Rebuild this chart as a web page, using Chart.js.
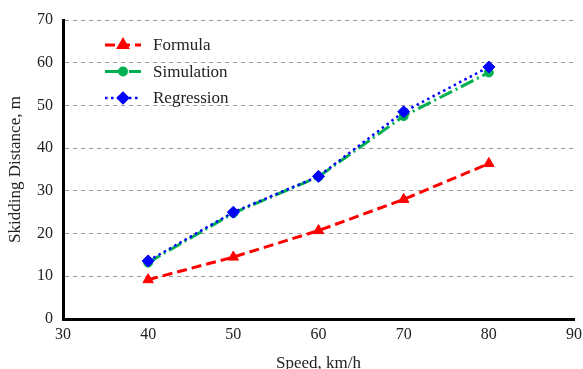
<!DOCTYPE html>
<html>
<head>
<meta charset="utf-8">
<script src="https://cdn.jsdelivr.net/npm/chart.js@4.4.1/dist/chart.umd.min.js"></script>
<style>
  html, body { margin:0; padding:0; background:#fff; overflow:hidden; }
  #wrap { position:relative; width:583px; height:378px; }
</style>
</head>
<body>
<div id="wrap"><canvas id="chart"></canvas></div>
<script>
// Datos
const speeds = [40, 50, 60, 70, 80];
const formula = [9.2, 14.5, 20.7, 28.0, 36.4];
const simulation = [13.2, 24.8, 33.3, 47.5, 57.7];
const regression = [13.6, 25.0, 33.4, 48.5, 59.0];
const seriesNames = ['Formula', 'Simulation', 'Regression'];

const FONT = "'Liberation Serif', 'DejaVu Serif', serif";
const pts = arr => speeds.map((x, i) => ({ x, y: arr[i] }));

// Leyenda dibujada dentro del área del gráfico
const insideLegend = {
  id: 'insideLegend',
  afterDraw(chart){
    const ctx = chart.ctx;
    const x0 = chart.chartArea.left + 42, y0 = 45, gap = 26.5;
    chart.data.datasets.forEach((ds, i) => {
      const y = y0 + i * gap;
      ctx.save();
      ctx.strokeStyle = ds.borderColor;
      ctx.lineWidth = ds.borderWidth;
      ctx.setLineDash(ds.borderDash || []);
      ctx.beginPath();
      ctx.moveTo(x0, y);
      ctx.lineTo(x0 + 36, y);
      ctx.stroke();
      ctx.setLineDash([]);
      Chart.helpers.drawPoint(ctx, {
        pointStyle: ds.pointStyle, radius: ds.pointRadius - 1, rotation: 0, borderWidth: 1
      }, x0 + 18, y);
      ctx.fillStyle = ds.pointBackgroundColor;
      ctx.strokeStyle = ds.pointBackgroundColor;
      ctx.fill();
      ctx.fillStyle = '#222';
      ctx.font = '17px ' + FONT;
      ctx.textBaseline = 'middle';
      ctx.fillText(seriesNames[i], x0 + 48, y + 1);
      ctx.restore();
    });
  }
};

new Chart(document.getElementById('chart'), {
  type: 'line',
  data: {
    datasets: [
      {
        label: seriesNames[0], data: pts(formula), order: 2,
        borderColor: '#ff0000', borderWidth: 3, borderDash: [10, 5],
        pointStyle: 'triangle', pointRadius: 6,
        pointBackgroundColor: '#ff0000', pointBorderColor: '#ff0000', pointBorderWidth: 1
      },
      {
        label: seriesNames[1], data: pts(simulation), order: 1,
        borderColor: '#00b050', borderWidth: 3, borderDash: [14, 4, 2, 4],
        pointStyle: 'circle', pointRadius: 4.5,
        pointBackgroundColor: '#00b050', pointBorderColor: '#00b050', pointBorderWidth: 1
      },
      {
        label: seriesNames[2], data: pts(regression), order: 0,
        borderColor: '#0000ff', borderWidth: 2.5, borderDash: [2.5, 3.5],
        pointStyle: 'rectRot', pointRadius: 6,
        pointBackgroundColor: '#0000ff', pointBorderColor: '#0000ff', pointBorderWidth: 1
      }
    ]
  },
  options: {
    responsive: true,
    maintainAspectRatio: false,
    animation: false,
    layout: { padding: { top: 20, right: 9, left: 0, bottom: 0 } },
    plugins: { legend: { display: false }, tooltip: { enabled: false } },
    scales: {
      x: {
        type: 'linear', min: 30, max: 90,
        ticks: { stepSize: 10, color: '#222', font: { family: FONT, size: 16 }, padding: 6 },
        grid: { display: false, drawTicks: false },
        border: { display: true, color: '#000', width: 3 },
        title: { display: true, text: 'Speed, km/h', color: '#222', font: { family: FONT, size: 17 }, padding: { top: 5 } },
        afterFit(s){ s.height = 59; s.paddingRight = 0; }
      },
      y: {
        min: 0, max: 70,
        ticks: { stepSize: 10, color: '#222', font: { family: FONT, size: 16 }, padding: 10 },
        grid: { color: '#9a9a9a', lineWidth: 1, drawTicks: false },
        border: { display: true, color: '#000', width: 3, dash: [4, 4] },
        title: { display: true, text: 'Skidding Distance, m', color: '#222', font: { family: FONT, size: 17 }, padding: { top: 5, bottom: 1 } },
        afterFit(s){ s.width = 63; }
      }
    }
  },
  plugins: [insideLegend]
});
</script>
</body>
</html>
